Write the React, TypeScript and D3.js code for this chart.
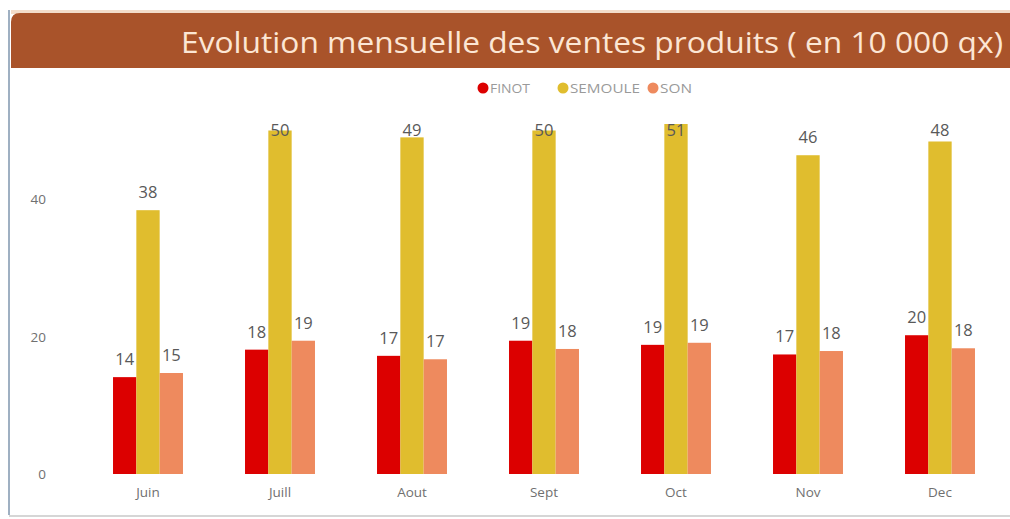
import React from "react";
import * as d3 from "d3";

const months = ["Juin", "Juill", "Aout", "Sept", "Oct", "Nov", "Dec"];
const seriesNames = ["FINOT", "SEMOULE", "SON"];
const finot = [14.1, 18.1, 17.2, 19.4, 18.8, 17.4, 20.2];
const semoule = [38.4, 50, 49, 50, 51, 46.4, 48.4];
const son = [14.7, 19.4, 16.7, 18.2, 19.1, 17.9, 18.3];
const yTicks = [0, 20, 40];
const colors = ["#DC0000", "#E0BD2E", "#EE8A5E"];
const title = "Evolution mensuelle des ventes produits ( en 10 000 qx)";

const W = 1010;
const H = 519;
const plotTop = 124;
const baseY = 474;

export default function App() {
  const series = [finot, semoule, son];
  const x = d3.scaleBand<string>().domain(months).range([82, 1006]).paddingInner(0.47).paddingOuter(0.235);
  const xs = d3.scaleBand<string>().domain(seriesNames).range([0, x.bandwidth()]).padding(0);
  const y = d3.scaleLinear().domain([0, 40]).range([baseY, baseY - 40 * 6.87]);
  const fmt = d3.format(".0f");
  const font = "'Open Sans', 'DejaVu Sans', sans-serif";
  const legendPos = [
    { cx: 483, tx: 490, tl: 40 },
    { cx: 563, tx: 570, tl: 70 },
    { cx: 653, tx: 660, tl: 32 },
  ];

  return (
    <svg width={W} height={H} style={{ position: "absolute", left: 0, top: 0, background: "#fff" }} fontFamily={font}>
      <defs>
        <clipPath id="plotClip">
          <rect x={0} y={plotTop} width={W} height={baseY - plotTop + 1} />
        </clipPath>
      </defs>
      <rect x={0} y={0} width={W} height={H} fill="#fff" />
      {/* frame */}
      <line x1={9} y1={10} x2={9} y2={515} stroke="#9FB0C2" strokeWidth={2} />
      <line x1={9} y1={516} x2={W} y2={516} stroke="#C8C8C8" strokeWidth={1.5} />
      {/* header */}
      <rect x={11} y={10} width={W} height={4} fill="#F3DCC9" />
      <path d={`M11,${68} L11,${22} Q11,13 20,13 L${W},13 L${W},68 Z`} fill="#A9532A" />
      <text x={181} y={53} fontSize={30} fill="#FCE6D4" textLength={822} lengthAdjust="spacingAndGlyphs">
        {title}
      </text>
      {/* legend */}
      {legendPos.map((p, i) => (
        <g key={seriesNames[i]}>
          <circle cx={p.cx} cy={88} r={5.5} fill={colors[i]} />
          <text x={p.tx} y={92.5} fontSize={12.5} fill="#9A9A9A" textLength={p.tl} lengthAdjust="spacingAndGlyphs">
            {seriesNames[i]}
          </text>
        </g>
      ))}
      {/* y tick labels */}
      {yTicks.map((t) => (
        <text key={t} x={46} y={y(t) + 5} fontSize={13.5} fill="#707070" textAnchor="end">
          {t}
        </text>
      ))}
      {/* bars */}
      <g clipPath="url(#plotClip)">
        {months.map((m, mi) =>
          series.map((s, si) => (
            <rect
              key={m + si}
              x={(x(m) as number) + (xs(seriesNames[si]) as number)}
              y={y(s[mi])}
              width={xs.bandwidth()}
              height={baseY - y(s[mi])}
              fill={colors[si]}
            />
          ))
        )}
      </g>
      {/* data labels */}
      {months.map((m, mi) =>
        series.map((s, si) => {
          const top = Math.max(y(s[mi]), plotTop);
          const cy = Math.max(top - 18, 130);
          return (
            <text
              key={"l" + m + si}
              x={(x(m) as number) + (xs(seriesNames[si]) as number) + xs.bandwidth() / 2}
              y={cy + 6}
              fontSize={16.5}
              fill="#595959"
              textAnchor="middle"
            >
              {fmt(s[mi])}
            </text>
          );
        })
      )}
      {/* category labels */}
      {months.map((m) => (
        <text key={"c" + m} x={(x(m) as number) + x.bandwidth() / 2} y={497} fontSize={13.5} fill="#707070" textAnchor="middle">
          {m}
        </text>
      ))}
    </svg>
  );
}
